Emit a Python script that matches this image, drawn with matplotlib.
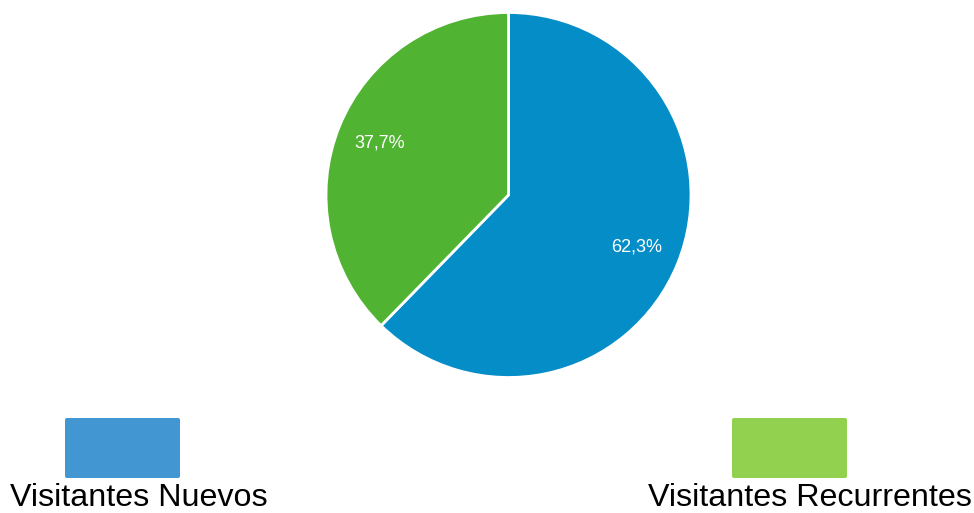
import matplotlib.pyplot as plt
from matplotlib.patches import FancyBboxPatch
import numpy as np

# data
labels = ["Visitantes Nuevos", "Visitantes Recurrentes"]
values = [62.3, 37.7]
pct_labels = ["62,3%", "37,7%"]
pie_colors = ["#058dc7", "#50b432"]
legend_colors = ["#4297d3", "#92d050"]

W, H = 974, 513
fig = plt.figure(figsize=(W / 100, H / 100), dpi=100)
ax = fig.add_axes([0, 0, 1, 1])

# pie (pixel coords, y measured from bottom)
cx, cy, r = 508.5, H - 195, 182.5
ax.pie(values, colors=pie_colors, startangle=90, counterclock=False,
       center=(cx, cy), radius=r, frame=True,
       wedgeprops=dict(edgecolor="white", linewidth=2))
ax.set_xlim(0, W)
ax.set_ylim(0, H)
ax.set_aspect("equal")
ax.axis("off")

# percent labels
start = 90.0
for v, txt in zip(values, pct_labels):
    mid = np.deg2rad(start - v * 3.6 / 2)
    start -= v * 3.6
    ax.text(cx + 0.76 * r * np.cos(mid), cy + 0.76 * r * np.sin(mid), txt,
            color="white", fontsize=13, family="Liberation Sans",
            ha="center", va="center")

# legend boxes + labels
boxes = [(65, 180), (732, 847)]
text_x = [10, 648]
for (x0, x1), tx, lab, col in zip(boxes, text_x, labels, legend_colors):
    ax.add_patch(FancyBboxPatch((x0 + 2, H - 478 + 2), x1 - x0 - 4, 60 - 4,
                                boxstyle="round,pad=2", facecolor=col, edgecolor="none"))
    ax.text(tx, H - 506, lab, fontsize=23.2, family="Liberation Sans",
            ha="left", va="baseline", color="black")

fig.savefig("out.png", dpi=100)
